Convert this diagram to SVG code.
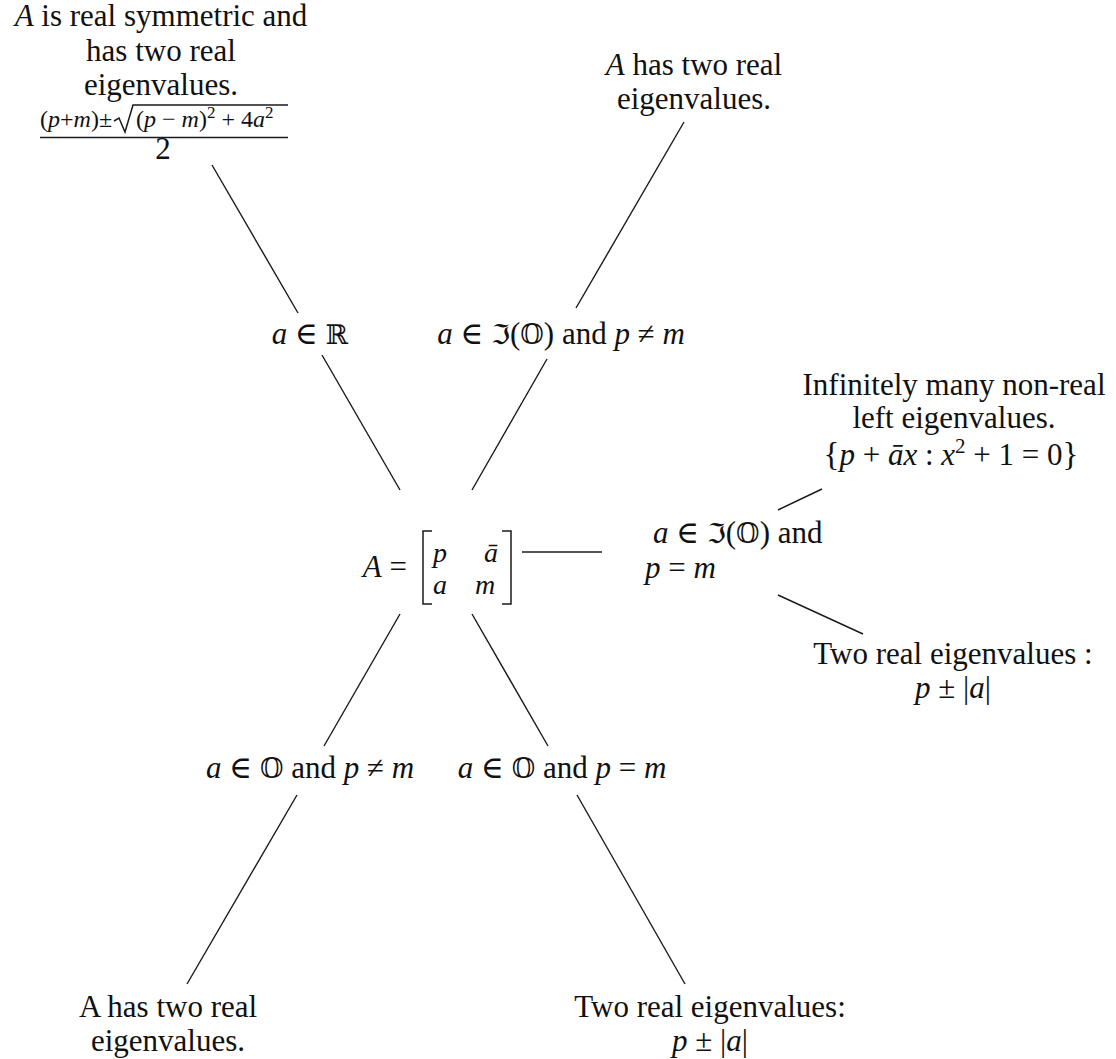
<svg xmlns="http://www.w3.org/2000/svg" width="1116" height="1059" viewBox="0 0 1116 1059">
<style>
text{font-family:"Liberation Serif","DejaVu Serif",serif;font-size:31px;fill:#111;text-anchor:middle}
.i{font-style:italic}
.bb{font-family:"DejaVu Serif","DejaVu Sans",serif;font-size:27px;font-style:normal}
.s{text-anchor:start}
.num{font-size:24px;text-anchor:start}
.mx{font-size:28px;font-style:italic;text-anchor:start}
.c line{stroke:#1a1a1a;stroke-width:1.4;fill:none}
.br{stroke:#1a1a1a;stroke-width:1.5;fill:none}
</style>
<rect width="1116" height="1059" fill="#fff"/>
<g class="c" id="connectors">
<line x1="212" y1="165" x2="298" y2="313"/>
<line x1="684" y1="122" x2="576" y2="308"/>
<line x1="322" y1="355" x2="400" y2="490"/>
<line x1="547" y1="359" x2="472" y2="490"/>
<line x1="400" y1="614" x2="324" y2="746"/>
<line x1="472" y1="614" x2="548" y2="746"/>
<line x1="297" y1="795" x2="187" y2="984"/>
<line x1="577" y1="795" x2="685" y2="984"/>
<line x1="522" y1="552" x2="602" y2="552"/>
<line x1="778" y1="510" x2="822" y2="489"/>
<line x1="778" y1="595" x2="863" y2="634"/>
</g>
<g id="n-real-symmetric">
<text x="161" y="26"><tspan class="i">A</tspan> is real symmetric and</text>
<text x="161" y="61">has two real</text>
<text x="161" y="95">eigenvalues.</text>
<text class="num" x="40" y="127">(<tspan class="i">p</tspan>+<tspan class="i">m</tspan>)±</text>
<path class="br" d="M114,121 L119,118 L125,132 L133,105 H288" stroke-width="1.3"/>
<text class="num" x="136" y="127">(<tspan class="i">p</tspan> − <tspan class="i">m</tspan>)<tspan font-size="17" dy="-9">2</tspan><tspan dy="9"> + 4</tspan><tspan class="i">a</tspan><tspan font-size="17" dy="-9">2</tspan></text>
<line x1="40" y1="137.5" x2="288" y2="137.5" stroke="#1a1a1a" stroke-width="1.3"/>
<text x="163" y="159" font-size="19">2</text>
</g>
<g id="n-two-real-top">
<text x="694" y="75"><tspan class="i">A</tspan> has two real</text>
<text x="694" y="109">eigenvalues.</text>
</g>
<g id="n-a-in-R">
<text x="310" y="344"><tspan class="i">a</tspan> ∈ <tspan class="bb">ℝ</tspan></text>
</g>
<g id="n-imag-p-neq-m">
<text x="561" y="344"><tspan class="i">a</tspan> ∈ <tspan class="bb">ℑ</tspan>(<tspan class="bb">𝕆</tspan>) and <tspan class="i">p</tspan> ≠ <tspan class="i">m</tspan></text>
</g>
<g id="n-matrix">
<text x="407" y="577" style="text-anchor:end"><tspan class="i">A</tspan> =</text>
<path class="br" d="M432,531 H423 V604 H432"/>
<path class="br" d="M502,531 H511 V604 H502"/>
<text class="mx" x="433" y="562">p</text>
<text class="mx" x="484" y="562">ā</text>
<text class="mx" x="433" y="594">a</text>
<text class="mx" x="475" y="594">m</text>
</g>
<g id="n-imag-p-eq-m">
<text class="s" x="653" y="543"><tspan class="i">a</tspan> ∈ <tspan class="bb">ℑ</tspan>(<tspan class="bb">𝕆</tspan>) and</text>
<text class="s" x="645" y="578"><tspan class="i">p</tspan> = <tspan class="i">m</tspan></text>
</g>
<g id="n-left-eigen">
<text x="954" y="395">Infinitely many non-real</text>
<text x="954" y="428">left eigenvalues.</text>
<text x="951" y="465"><tspan font-size="33">{</tspan><tspan class="i">p</tspan> + <tspan class="i">āx</tspan> : <tspan class="i">x</tspan><tspan font-size="21" dy="-12">2</tspan><tspan dy="12"> + 1 = 0</tspan><tspan font-size="33">}</tspan></text>
</g>
<g id="n-two-real-right">
<text x="953" y="664">Two real eigenvalues :</text>
<text x="953" y="698"><tspan class="i">p</tspan> ± |<tspan class="i">a</tspan>|</text>
</g>
<g id="n-O-p-neq-m">
<text x="310" y="778"><tspan class="i">a</tspan> ∈ <tspan class="bb">𝕆</tspan> and <tspan class="i">p</tspan> ≠ <tspan class="i">m</tspan></text>
</g>
<g id="n-O-p-eq-m">
<text x="562" y="778"><tspan class="i">a</tspan> ∈ <tspan class="bb">𝕆</tspan> and <tspan class="i">p</tspan> = <tspan class="i">m</tspan></text>
</g>
<g id="n-two-real-bottom">
<text x="168" y="1017">A has two real</text>
<text x="168" y="1051">eigenvalues.</text>
</g>
<g id="n-two-real-bottom-right">
<text x="710" y="1017">Two real eigenvalues:</text>
<text x="710" y="1051"><tspan class="i">p</tspan> ± |<tspan class="i">a</tspan>|</text>
</g>
</svg>
